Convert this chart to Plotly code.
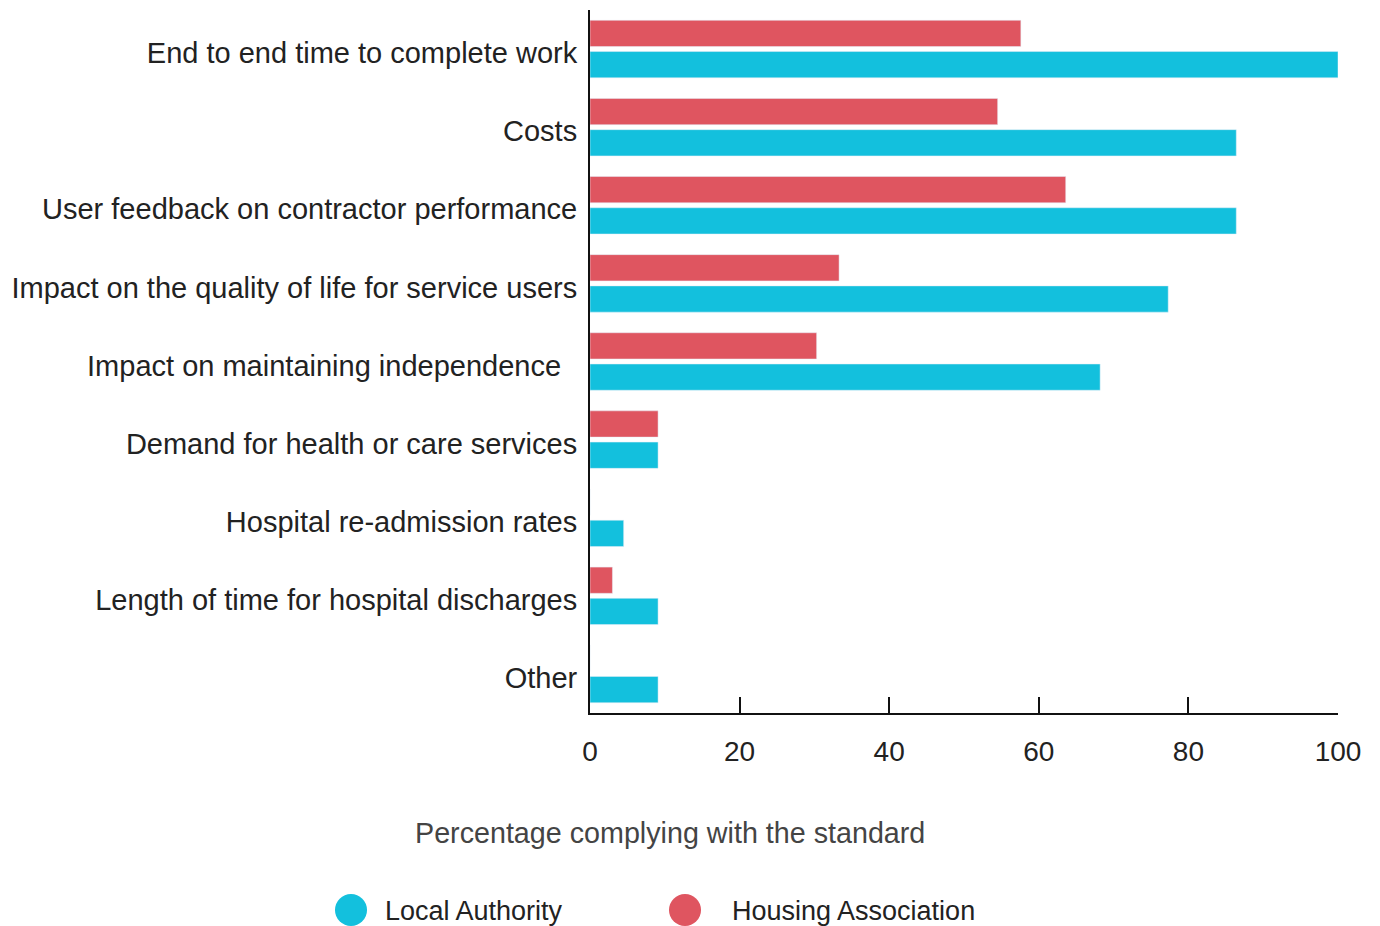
import plotly.graph_objects as go

categories = [
    "End to end time to complete work",
    "Costs",
    "User feedback on contractor performance",
    "Impact on the quality of life for service users",
    "Impact on maintaining independence\u00a0\u00a0",
    "Demand for health or care services",
    "Hospital re-admission rates",
    "Length of time for hospital discharges",
    "Other",
]
local_authority = [100.0, 86.4, 86.4, 77.3, 68.2, 9.1, 4.5, 9.1, 9.1]
housing_association = [57.6, 54.5, 63.6, 33.3, 30.3, 9.1, 0.0, 3.0, 0.0]
tick_values = [0, 20, 40, 60, 80, 100]
axis_title = "Percentage complying with the standard"
series_names = ["Local Authority", "Housing Association"]

RED = "#DF5560"
BLUE = "#13C0DD"
FONT = "Liberation Sans"

W, H = 1372, 918          # page body has an 8px margin
L, R, T, B = 582, 42, 2, 213
plot_w, plot_h = W - L - R, H - T - B

fig = go.Figure()
fig.add_trace(go.Bar(y=categories, x=housing_association, orientation="h",
                     name=series_names[1], marker_color=RED, showlegend=False))
fig.add_trace(go.Bar(y=categories, x=local_authority, orientation="h",
                     name=series_names[0], marker_color=BLUE, showlegend=False))

# legend entries (text); large circular swatches drawn as shapes next to them
for nm in series_names:
    fig.add_trace(go.Scatter(x=[None], y=[None], mode="markers", name=nm,
                             marker=dict(color="rgba(0,0,0,0)", size=2)))

legend_y_px = 902
swatch_centers_px = [343, 677]
for cx, col in zip(swatch_centers_px, [BLUE, RED]):
    fig.add_shape(type="circle", xref="paper", yref="paper",
                  xsizemode="pixel", ysizemode="pixel",
                  xanchor=(cx - L) / plot_w, yanchor=(H - B - legend_y_px) / plot_h,
                  x0=-16, x1=16, y0=-16, y1=16,
                  fillcolor=col, line=dict(width=0))

fig.add_annotation(text=axis_title, xref="paper", yref="paper",
                   x=(662 - L) / plot_w, y=(H - B - 825) / plot_h,
                   xanchor="center", yanchor="middle",
                   showarrow=False, font=dict(size=28.7, color="#444444"))

fig.update_layout(
    width=W, height=H,
    margin=dict(l=L, r=R, t=T, b=B, autoexpand=False),
    paper_bgcolor="white", plot_bgcolor="white",
    font=dict(family=FONT, size=29, color="#222222"),
    barmode="group", bargap=0.2, bargroupgap=0.16,
    showlegend=True,
    legend=dict(orientation="h", xref="container", yref="container",
                x=337 / W, xanchor="left", y=(H - legend_y_px) / H, yanchor="middle",
                bgcolor="rgba(0,0,0,0)", borderwidth=0,
                itemwidth=30, entrywidth=302, font=dict(size=27, color="#222222")),
    xaxis=dict(range=[0, 100], tickvals=tick_values, ticks="inside", ticklen=16,
               tickwidth=2, tickcolor="#111111", showline=True, linecolor="#111111",
               linewidth=2, showgrid=False, zeroline=False, ticklabelstandoff=12,
               tickfont=dict(size=28, color="#222222")),
    yaxis=dict(autorange="reversed", showline=True, linecolor="#111111", linewidth=2,
               ticks="", showgrid=False, ticklabelstandoff=5, ticklabelshift=-4,
               tickfont=dict(size=29, color="#222222")),
)

fig.write_html("out.html")
